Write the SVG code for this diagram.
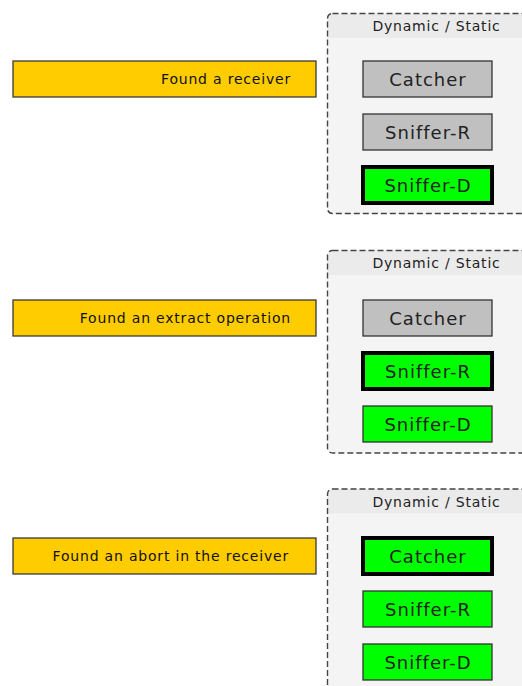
<svg xmlns="http://www.w3.org/2000/svg" width="522" height="686" viewBox="0 0 522 686">
  <style>
    .bg { fill: #ffffff; }
    .panel-body { fill: #f4f4f4; }
    .panel-head { fill: #ebebeb; }
    .panel-edge { fill: none; stroke: #444444; stroke-width: 1.4; stroke-dasharray: 6 3; }
    .panel-title { font-family: "DejaVu Sans", sans-serif; font-size: 14px; letter-spacing: 0.8px; fill: #222222; text-anchor: middle; }
    .event { fill: #ffcc00; stroke: #3a3a3a; stroke-width: 1.3; }
    .event-label { font-family: "DejaVu Sans", sans-serif; font-size: 14px; letter-spacing: 0.8px; fill: #111111; text-anchor: end; }
    .idle { fill: #c0c0c0; stroke: #333333; stroke-width: 1.3; }
    .on { fill: #00ff00; stroke: #333333; stroke-width: 1.3; }
    .active { fill: #00ff00; stroke: #000000; stroke-width: 4; }
    .unit-label { font-family: "DejaVu Sans", sans-serif; font-size: 18px; letter-spacing: 1px; fill: #222222; text-anchor: middle; }
  </style>

  <rect class="bg" x="0" y="0" width="522" height="686"/>

  <!-- Stage 1: receiver found -->
  <g id="event-receiver">
    <rect class="event" x="13" y="61" width="303" height="36"/>
    <text class="event-label" x="291" y="84.3">Found a receiver</text>
  </g>
  <g id="panel-1">
    <rect class="panel-body" x="327.5" y="13.5" width="218" height="200" rx="5"/>
    <path class="panel-head" d="M327.5 38 V18.5 a5 5 0 0 1 5 -5 H545.5 V38 Z"/>
    <rect class="panel-edge" x="327.5" y="13.5" width="218" height="200" rx="5"/>
    <text class="panel-title" x="436.5" y="30.5">Dynamic / Static</text>
  </g>
  <g id="catcher-1">
    <rect class="idle" x="363" y="61" width="129" height="36"/>
    <text class="unit-label" x="428" y="86.3">Catcher</text>
  </g>
  <g id="sniffer-r-1">
    <rect class="idle" x="363" y="114" width="129" height="36"/>
    <text class="unit-label" x="428" y="139.3">Sniffer-R</text>
  </g>
  <g id="sniffer-d-1">
    <rect class="active" x="363" y="167" width="129" height="36"/>
    <text class="unit-label" x="428" y="192.3">Sniffer-D</text>
  </g>

  <!-- Stage 2: extract operation found -->
  <g id="event-extract">
    <rect class="event" x="13" y="300" width="303" height="36"/>
    <text class="event-label" x="291" y="323.3">Found an extract operation</text>
  </g>
  <g id="panel-2">
    <rect class="panel-body" x="327.5" y="250.5" width="218" height="202.5" rx="5"/>
    <path class="panel-head" d="M327.5 275 V255.5 a5 5 0 0 1 5 -5 H545.5 V275 Z"/>
    <rect class="panel-edge" x="327.5" y="250.5" width="218" height="202.5" rx="5"/>
    <text class="panel-title" x="436.5" y="268">Dynamic / Static</text>
  </g>
  <g id="catcher-2">
    <rect class="idle" x="363" y="300" width="129" height="36"/>
    <text class="unit-label" x="428" y="325.3">Catcher</text>
  </g>
  <g id="sniffer-r-2">
    <rect class="active" x="363" y="353" width="129" height="36"/>
    <text class="unit-label" x="428" y="378.3">Sniffer-R</text>
  </g>
  <g id="sniffer-d-2">
    <rect class="on" x="363" y="406" width="129" height="36"/>
    <text class="unit-label" x="428" y="431.3">Sniffer-D</text>
  </g>

  <!-- Stage 3: abort found in the receiver -->
  <g id="event-abort">
    <rect class="event" x="13" y="538" width="303" height="36"/>
    <text class="event-label" x="289" y="561.3">Found an abort in the receiver</text>
  </g>
  <g id="panel-3">
    <rect class="panel-body" x="327.5" y="489" width="218" height="210" rx="5"/>
    <path class="panel-head" d="M327.5 513.5 V494 a5 5 0 0 1 5 -5 H545.5 V513.5 Z"/>
    <rect class="panel-edge" x="327.5" y="489" width="218" height="210" rx="5"/>
    <text class="panel-title" x="436.5" y="506.5">Dynamic / Static</text>
  </g>
  <g id="catcher-3">
    <rect class="active" x="363" y="538" width="129" height="36"/>
    <text class="unit-label" x="428" y="563.3">Catcher</text>
  </g>
  <g id="sniffer-r-3">
    <rect class="on" x="363" y="591" width="129" height="36"/>
    <text class="unit-label" x="428" y="616.3">Sniffer-R</text>
  </g>
  <g id="sniffer-d-3">
    <rect class="on" x="363" y="644" width="129" height="36"/>
    <text class="unit-label" x="428" y="669.3">Sniffer-D</text>
  </g>

  <!-- no connectors are drawn between these nodes -->
  <g id="connectors"/>
</svg>
